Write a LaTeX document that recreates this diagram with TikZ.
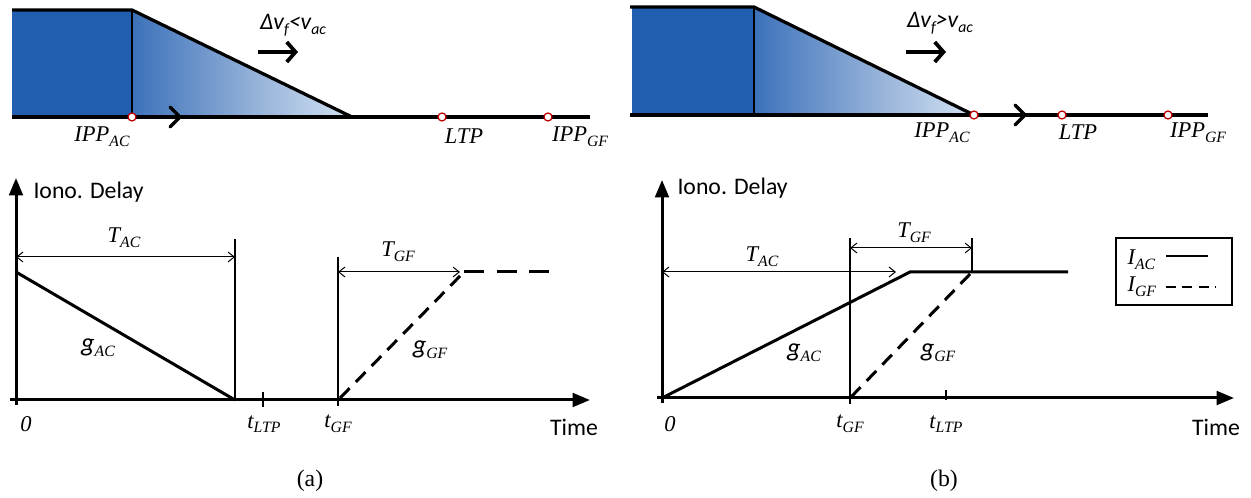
\documentclass[tikz,border=0pt]{standalone}
\usepackage{fontspec}
\setmainfont{Liberation Serif}
\newfontfamily\carlito{Carlito}
\usetikzlibrary{arrows.meta, calc}

\definecolor{ionoblue}{RGB}{33,94,176}
\definecolor{ionopale}{RGB}{236,246,253}
\pgfdeclarehorizontalshading{frontfade}{100bp}{color(0bp)=(ionoblue); color(22bp)=(ionoblue!92!white); color(55bp)=(ionoblue!45!white); color(85bp)=(ionopale); color(100bp)=(ionopale)}
\newcommand{\sbs}[1]{\raisebox{-0.45ex}{\fontsize{6.3}{7}\selectfont #1}}

\begin{document}
\begin{tikzpicture}[x=0.4pt, y=-0.4pt,
	axis/.style={line width=1.2pt, -{Triangle[length=7pt,width=5.5pt]}},
	span/.style={line width=0.4pt, {Straight Barb[length=2.5pt,width=4pt]}-{Straight Barb[length=2.5pt,width=4pt]}},
	guide/.style={line width=0.5pt},
	gline/.style={line width=1.2pt},
	gdash/.style={line width=1.2pt, dash pattern=on 5.5pt off 3.5pt},
	ipp/.style={circle, draw=red!75!black, fill=white, inner sep=0pt, minimum size=3.2pt, line width=0.5pt},
	lab/.style={font=\fontsize{9}{10}\selectfont\itshape, inner sep=0pt},
	sans/.style={font=\carlito\fontsize{9.5}{11}\selectfont, inner sep=0pt},
	move/.style={line width=1.5pt, -{Straight Barb[length=3.5pt,width=8pt]}},
	chev/.style={line width=1.3pt, line cap=round, line join=round},
	]
	\useasboundingbox (0,0) rectangle (1251,498);

	% ---- (a) top: front moving slower than aircraft
	\fill[ionoblue] (12,10) rectangle (132,117);
	\shade[shading=frontfade] (132,10) -- (352,117) -- (132,117) -- cycle;
	\draw[guide] (132,10) -- (132,117);
	\draw[line width=1.3pt] (12,10) -- (132,10) -- (352,117);
	\draw[line width=1.3pt] (12,117) -- (590,117);
	\draw[chev] (170,107) -- (180,117) -- (170,127);
	\node[ipp] (aIPPac) at (132,117) {};
	\node[ipp] (aLTP) at (442,117) {};
	\node[ipp] (aIPPgf) at (548,117) {};
	\node[lab] (aIPPacLab) at (102,137) {IPP\sbs{AC}};
	\node[lab] (aLTPLab) at (464,136) {LTP};
	\node[lab] (aIPPgfLab) at (580,137) {IPP\sbs{GF}};
	\node[sans, font=\carlito\itshape\fontsize{9.5}{11}\selectfont] (aSpeed) at (293,25) {Δv\sbs{f}<v\sbs{ac}};
	\coordinate (aMove0) at (258,52);
	\coordinate (aMove1) at (298,52);
	\draw[move] (aMove0) -- (aMove1);

	% ---- (b) top: front moving faster than aircraft
	\fill[ionoblue] (632,7) rectangle (754,115);
	\shade[shading=frontfade] (754,7) -- (974,115) -- (754,115) -- cycle;
	\draw[guide] (754,7) -- (754,115);
	\draw[line width=1.3pt] (630,7) -- (754,7) -- (974,115);
	\draw[line width=1.3pt] (630,115) -- (1208,115);
	\draw[chev] (1015,105) -- (1025,115) -- (1015,125);
	\node[ipp] (bIPPac) at (974,115) {};
	\node[ipp] (bLTP) at (1062,115) {};
	\node[ipp] (bIPPgf) at (1168,115) {};
	\node[lab] (bIPPacLab) at (942,133) {IPP\sbs{AC}};
	\node[lab] (bLTPLab) at (1078,132) {LTP};
	\node[lab] (bIPPgfLab) at (1198,133) {IPP\sbs{GF}};
	\node[sans, font=\carlito\itshape\fontsize{9.5}{11}\selectfont] (bSpeed) at (940,23) {Δv\sbs{f}>v\sbs{ac}};
	\coordinate (bMove0) at (906,52);
	\coordinate (bMove1) at (946,52);
	\draw[move] (bMove0) -- (bMove1);

	% ---- (a) delay over time
	\coordinate (aO) at (16,400);
	\draw[axis] (10,400) -- (590,400);
	\draw[axis] (16,405) -- (16,178);
	\node[sans, anchor=west] (aIono) at (33,192) {Iono. Delay};
	\node[sans] (aTime) at (574,427) {Time};
	\node[lab] (aZero) at (26,424) {0};
	\draw[guide] (235,239) -- (235,400);
	\draw[span] (16,257) -- (235,257);
	\node[lab] (aTac) at (124,238) {T\sbs{AC}};
	\draw[gline] (16,272) -- (235,400);
	\node[inner sep=0pt] (aGac) at (98,348) {{\carlito\itshape\fontsize{10.5}{11}\selectfont g}\sbs{\itshape AC}};
	\draw[guide] (263,392) -- (263,407);
	\node[lab] (aTltp) at (264,424) {t\sbs{LTP}};
	\draw[guide] (338,257) -- (338,406);
	\node[lab] (aTgf) at (338,424) {t\sbs{GF}};
	\draw[span] (338,272) -- (460,272);
	\node[lab] (aTgfSpan) at (398,252) {T\sbs{GF}};
	\draw[gdash] (340,398) -- (464,272);
	\draw[line width=1.2pt, dash pattern=on 8pt off 5pt] (464,272) -- (556,272);
	\node[inner sep=0pt] (aGgf) at (430,350) {{\carlito\itshape\fontsize{10.5}{11}\selectfont g}\sbs{\itshape GF}};
	\node[font=\fontsize{9.5}{10}\selectfont] (aCap) at (310,481) {(a)};

	% ---- (b) delay over time
	\coordinate (bO) at (662,398);
	\draw[axis] (657,398) -- (1234,398);
	\draw[axis] (662,403) -- (662,180);
	\node[sans, anchor=west] (bIono) at (677,188) {Iono. Delay};
	\node[sans] (bTime) at (1216,427) {Time};
	\node[lab] (bZero) at (670,424) {0};
	\draw[guide] (850,238) -- (850,404);
	\draw[guide] (972,238) -- (972,272);
	\draw[span] (662,272) -- (896,272);
	\node[lab] (bTac) at (762,257) {T\sbs{AC}};
	\draw[span] (850,248) -- (972,248);
	\node[lab] (bTgfSpan) at (914,233) {T\sbs{GF}};
	\draw[gline] (bO) -- (910,272) -- (1068,272);
	\draw[gdash] (851,397) -- (972,272);
	\node[inner sep=0pt] (bGac) at (804,353) {{\carlito\itshape\fontsize{10.5}{11}\selectfont g}\sbs{\itshape AC}};
	\node[inner sep=0pt] (bGgf) at (938,353) {{\carlito\itshape\fontsize{10.5}{11}\selectfont g}\sbs{\itshape GF}};
	\draw[guide] (946,390) -- (946,400);
	\node[lab] (bTgf) at (850,424) {t\sbs{GF}};
	\node[lab] (bTltp) at (946,424) {t\sbs{LTP}};
	\node[font=\fontsize{9.5}{10}\selectfont] (bCap) at (944,481) {(b)};

	% legend
	\draw[line width=0.5pt] (1116,238) rectangle (1232,305);
	\node[lab, anchor=west] (legAC) at (1127,260) {I\sbs{AC}};
	\node[lab, anchor=west] (legGF) at (1127,287) {I\sbs{GF}};
	\draw[line width=0.6pt] (1166,256) -- (1208,256);
	\draw[line width=0.6pt, dash pattern=on 4pt off 2.5pt] (1166,287) -- (1216,287);
\end{tikzpicture}
\end{document}
